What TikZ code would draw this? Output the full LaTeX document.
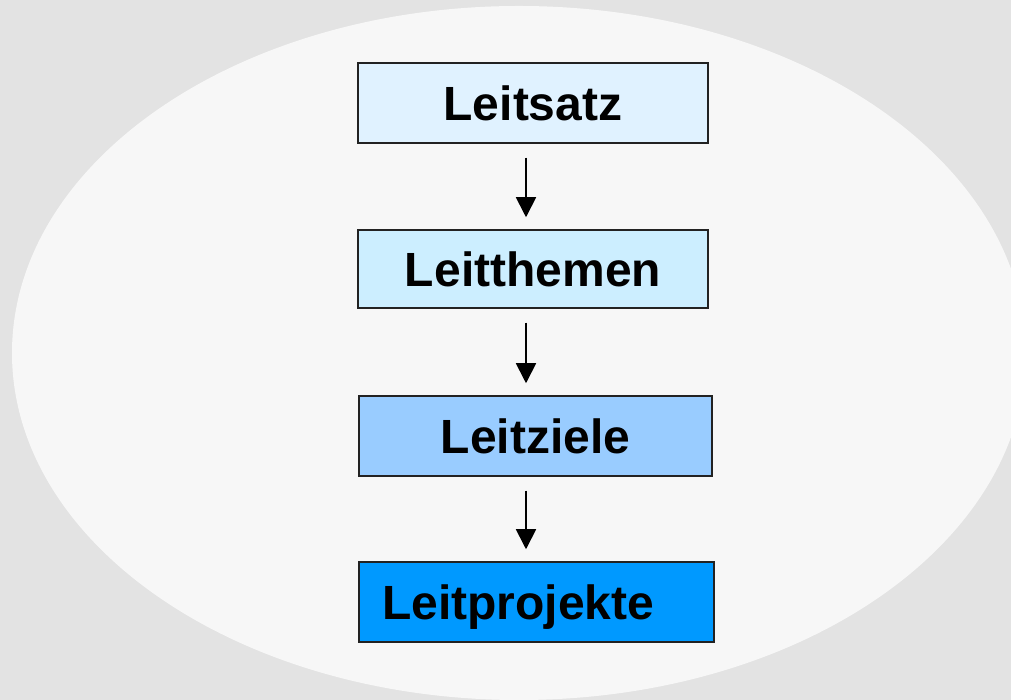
\documentclass[tikz,border=0pt]{standalone}
\usepackage{fontspec}
\setmainfont{Liberation Sans}
\usetikzlibrary{arrows.meta}
\definecolor{bgcol}{HTML}{E3E3E3}
\definecolor{ellcol}{HTML}{F7F7F7}
\definecolor{c1}{HTML}{E0F2FF}
\definecolor{c2}{HTML}{CCEEFF}
\definecolor{c3}{HTML}{99CCFF}
\definecolor{c4}{HTML}{0099FF}
\definecolor{edge}{HTML}{222222}
\tikzset{
  box/.style={draw=edge, line width=1.5pt, rectangle, inner sep=0pt,
    minimum height=80pt, text height=34.5pt, text depth=0pt,
    font=\fontsize{48}{57}\selectfont\bfseries},
  arr/.style={draw=black, line width=1.8pt, -{Triangle[width=20pt,length=20pt]},
    shorten <=14pt, shorten >=12pt}
}
\begin{document}
\begin{tikzpicture}[x=1pt,y=1pt]
\useasboundingbox (0,0) rectangle (1011,700);
\clip (0,0) rectangle (1011,700);
\fill[bgcol] (0,0) rectangle (1011,700);
\fill[ellcol] (519,347) ellipse [x radius=507, y radius=347];
\node[box, fill=c1, minimum width=350pt, minimum height=80pt] (b1) at (533,597) {Leitsatz};
\node[box, fill=c2, minimum width=350pt, minimum height=78pt] (b2) at (533,431) {Leitthemen};
\node[box, fill=c3, minimum width=353pt] (b3) at (535.5,264) {Leitziele};
\node[box, fill=c4, minimum width=355pt, inner xsep=23pt, text width=309pt, align=left] (b4) at (536.5,98) {Leitprojekte};
\draw[arr] ([xshift=-7pt]b1.south) -- ([xshift=-7pt]b2.north);
\draw[arr] ([xshift=-7pt]b2.south) -- ([xshift=-9.5pt]b3.north);
\draw[arr] ([xshift=-9.5pt]b3.south) -- ([xshift=-10.5pt]b4.north);
\end{tikzpicture}
\end{document}
